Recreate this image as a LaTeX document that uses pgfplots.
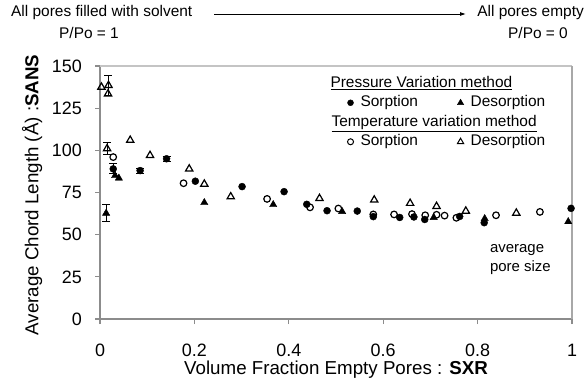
\documentclass[border=0pt]{standalone}
\usepackage{fontspec}
\setmainfont{Liberation Sans}
\usepackage{pgfplots}
\usepackage{pgfplotstable}
\pgfplotsset{compat=1.18}
\usetikzlibrary{arrows.meta}

% Pressure variation, sorption (filled circles)
\pgfplotstableread{
x y
0.202 81.7
0.301 78.5
0.390 75.5
0.438 68.0
0.481 64.2
0.545 64.0
0.579 60.7
0.635 60.2
0.665 60.5
0.688 59.0
0.762 60.8
0.814 57.1
0.998 65.6
}\psorp
\pgfplotstableread{
x y e
0.028 89 3
0.085 88 1.5
0.141 95 1.5
}\psorperr
% Pressure variation, desorption (filled triangles)
\pgfplotstableread{
x y
0.032 85.0
0.040 83.5
0.221 69.0
0.367 67.8
0.513 63.7
0.707 60.2
0.815 59.5
0.992 57.7
}\pdes
\pgfplotstableread{
x y e
0.013 62.7 5
}\pdeserr
% Temperature variation, sorption (open circles)
\pgfplotstableread{
x y
0.028 96.0
0.177 80.5
0.354 71.2
0.445 66.2
0.505 65.5
0.579 62.0
0.623 62.0
0.661 62.2
0.689 61.5
0.713 61.8
0.730 61.3
0.755 60.0
0.839 61.5
0.932 63.5
}\tsorp
% Temperature variation, desorption (open triangles)
\pgfplotstableread{
x y
0.003 137.5
0.017 133.5
0.064 106.0
0.106 97.0
0.189 89.0
0.221 80.0
0.277 72.5
0.465 71.5
0.581 70.6
0.657 68.6
0.713 66.8
0.775 64.0
0.882 62.8
}\tdes
\pgfplotstableread{
x y e
0.018 138.5 6
0.015 101.0 3.5
}\tdeserr

\definecolor{axgray}{HTML}{8C8C8C}
\definecolor{topgray}{HTML}{C4C4C4}
\definecolor{rightgray}{HTML}{A8A8A8}

\begin{document}
\begin{tikzpicture}[x=1bp,y=1bp]
\useasboundingbox (0,0) rectangle (587,379);
\begin{axis}[
  at={(100bp,60bp)}, anchor=south west,
  scale only axis, width=472bp, height=253bp,
  xmin=0, xmax=1, ymin=0, ymax=150,
  xtick={0,0.2,0.4,0.6,0.8,1}, ytick={0,25,50,75,100,125,150},
  axis lines*=left,
  axis line style={axgray, line width=1.5bp},
  tick align=outside, major tick length=5bp,
  tick style={axgray, line width=1.2bp},
  /pgf/number format/assume math mode=true,
  ticklabel style={font=\fontsize{18}{20}\selectfont, inner sep=0pt},
  xticklabel style={anchor=center, yshift=-26bp},
  yticklabel style={anchor=east, xshift=-13bp},
  xlabel={Volume Fraction Empty Pores : \textbf{SXR}},
  ylabel={Average Chord Length (Å) :\textbf{SANS}},
  label style={font=\fontsize{18.8}{21}\selectfont, inner sep=0pt},
  xlabel style={at={(axis description cs:0.5,-0.2)}, anchor=center},
  ylabel style={at={(axis description cs:-0.144,0.49)}, anchor=center},
  clip=false,
  legend columns=2,
  legend style={draw=none, fill=none, at={(axis description cs:0.506,0.972)}, anchor=north west,
    font=\fontsize{15.5}{18}\selectfont, row sep=3.5bp,
    nodes={inner sep=1bp, text height=11bp, text depth=3bp},
    /tikz/every odd column/.append style={column sep=6bp},
    /tikz/every even column/.append style={column sep=33bp}},
  legend cell align=left,
  error bars/error bar style={black, line width=1bp},
  error bars/error mark options={black, line width=1bp, mark size=4bp, rotate=90},
]
\addlegendimage{empty legend}
\addlegendentry{\makebox[0pt][l]{\hspace*{-30bp}\underline{Pressure Variation method}}}
\addlegendimage{empty legend}
\addlegendentry{}
\addlegendimage{only marks, mark=*, black, mark size=3bp}
\addlegendentry{Sorption}
\addlegendimage{only marks, mark=triangle*, black, mark size=3.6bp}
\addlegendentry{Desorption}
\addlegendimage{empty legend}
\addlegendentry{\makebox[0pt][l]{\hspace*{-29bp}\underline{Temperature variation method}}}
\addlegendimage{empty legend}
\addlegendentry{}
\addlegendimage{only marks, mark=o, black, mark size=3bp, line width=1bp}
\addlegendentry{Sorption}
\addlegendimage{only marks, mark=triangle, black, mark size=3.6bp, line width=1bp}
\addlegendentry{Desorption}

% pressure sorption
\addplot[forget plot, only marks, mark=*, black, mark size=3.5bp] table[x=x,y=y] {\psorp};
\addplot[forget plot, only marks, mark=*, black, mark size=3.5bp,
  error bars/.cd, y dir=both, y explicit] table[x=x,y=y,y error=e] {\psorperr};
% pressure desorption
\addplot[forget plot, only marks, mark=triangle*, black, mark size=4.2bp] table[x=x,y=y] {\pdes};
\addplot[forget plot, only marks, mark=triangle*, black, mark size=4.2bp,
  error bars/.cd, y dir=both, y explicit] table[x=x,y=y,y error=e] {\pdeserr};
% temperature sorption
\addplot[forget plot, only marks, mark=o, black, mark size=3.3bp, line width=1.2bp] table[x=x,y=y] {\tsorp};
% temperature desorption
\addplot[forget plot, only marks, mark=triangle, black, mark size=4.2bp, line width=1.2bp] table[x=x,y=y] {\tdes};
\addplot[forget plot, only marks, mark=triangle, black, mark size=4.2bp, line width=1.2bp,
  error bars/.cd, y dir=both, y explicit] table[x=x,y=y,y error=e] {\tdeserr};

% top and right frame
\draw[topgray, line width=1.5bp] (rel axis cs:0,1) -- (rel axis cs:1,1);
\draw[rightgray, line width=1.5bp] (rel axis cs:1,1) -- (rel axis cs:1,0);

\node[anchor=west, align=left, inner sep=0pt, font=\fontsize{15}{19}\selectfont]
  at (axis cs:0.826,35.5) {average\\pore size};
\end{axis}

\begin{scope}[font=\fontsize{15.5}{18}\selectfont, inner sep=0pt]
\node[anchor=west] at (11,366) {All pores filled with solvent};
\node at (89,346) {P/Po = 1};
\node[anchor=east] at (584,366) {All pores empty};
\node at (538,346) {P/Po = 0};
\draw[black, line width=0.9bp, -{Latex[length=6bp,width=4bp]}] (214,365) -- (466,365);
\end{scope}
\end{tikzpicture}
\end{document}
